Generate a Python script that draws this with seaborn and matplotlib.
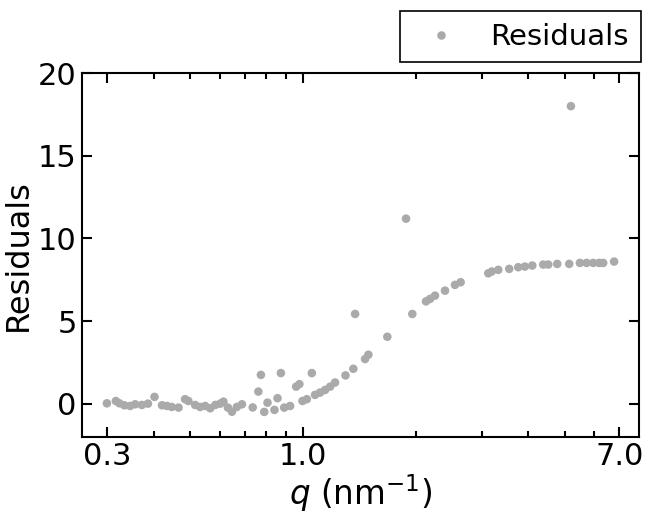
import numpy as np
import pandas as pd
import matplotlib
matplotlib.use("Agg")
import matplotlib.pyplot as plt
import seaborn as sns
from matplotlib.ticker import FixedLocator, FixedFormatter, LogLocator, NullFormatter

# ---- data ----
q = [0.300, 0.317, 0.324, 0.334, 0.346, 0.357, 0.372, 0.386, 0.402, 0.421,
     0.434, 0.447, 0.466, 0.485, 0.495, 0.516, 0.532, 0.549, 0.566, 0.584,
     0.602, 0.614, 0.631, 0.647, 0.667, 0.688, 0.735, 0.761, 0.773, 0.789,
     0.805, 0.840, 0.856, 0.874, 0.892, 0.925, 0.960, 0.979, 0.998, 1.025,
     1.057, 1.078, 1.112, 1.147, 1.183, 1.219, 1.300, 1.364, 1.379, 1.466,
     1.496, 1.681, 1.886, 1.960, 2.132, 2.185, 2.253, 2.396, 2.547, 2.638,
     3.126, 3.192, 3.324, 3.555, 3.758, 3.915, 4.096, 4.382, 4.518, 4.774,
     5.140, 5.194, 5.489, 5.719, 5.956, 6.179, 6.333, 6.773]
residuals = [0.02, 0.16, 0.02, -0.10, -0.14, -0.04, -0.08, 0.00, 0.41, -0.10,
             -0.14, -0.20, -0.24, 0.27, 0.16, -0.08, -0.20, -0.14, -0.28, -0.08,
             0.00, 0.12, -0.24, -0.49, -0.20, -0.04, -0.23, 0.73, 1.74, -0.50,
             0.06, -0.38, 0.33, 1.85, -0.24, -0.14, 1.03, 1.18, 0.16, 0.27,
             1.85, 0.53, 0.67, 0.83, 1.03, 1.28, 1.71, 2.11, 5.43, 2.70,
             2.96, 4.05, 11.20, 5.43, 6.19, 6.34, 6.54, 6.84, 7.19, 7.35,
             7.89, 8.00, 8.10, 8.16, 8.26, 8.30, 8.36, 8.42, 8.42, 8.46,
             8.46, 18.01, 8.52, 8.52, 8.52, 8.52, 8.52, 8.60]
xtick_values = [0.3, 1.0, 7.0]
xtick_labels = ["0.3", "1.0", "7.0"]
ytick_values = [0, 5, 10, 15, 20]

df = pd.DataFrame({"q": q, "Residuals": residuals, "series": "Residuals"})

sns.set_style("white")
plt.rcParams["font.family"] = ["DejaVu Sans"]
plt.rcParams["text.color"] = "black"
plt.rcParams["axes.labelcolor"] = "black"
plt.rcParams["xtick.color"] = "black"
plt.rcParams["ytick.color"] = "black"
plt.rcParams["axes.edgecolor"] = "black"

fig = plt.figure(figsize=(6.5, 5.18), dpi=100)
ax = fig.add_axes([0.1257, 0.157, 0.983 - 0.1257, 0.8585 - 0.157])

sns.scatterplot(data=df, x="q", y="Residuals", hue="series",
                palette=["#aaaaaa"], s=38, linewidth=0, ax=ax, legend=True)

ax.set_xscale("log")
ax.set_xlim(0.257, 7.89)
ax.set_ylim(-2, 20)

ax.xaxis.set_major_locator(FixedLocator(xtick_values))
ax.xaxis.set_major_formatter(FixedFormatter(xtick_labels))
ax.xaxis.set_minor_locator(LogLocator(base=10, subs=np.arange(2, 10)))
ax.xaxis.set_minor_formatter(NullFormatter())
ax.set_yticks(ytick_values)

ax.tick_params(which="both", direction="in", top=True, right=True,
               bottom=True, left=True, labelsize=22, width=1.5,
               color="black", labelcolor="black")
ax.tick_params(which="major", length=7)
ax.tick_params(which="minor", length=4)
for sp in ax.spines.values():
    sp.set_linewidth(1.5)
    sp.set_color("black")

ax.set_xlabel(r"$q$ (nm$^{-1}$)", fontsize=23.5, labelpad=1, color="black")
ax.set_ylabel("Residuals", fontsize=23, labelpad=3, color="black")

handles, labels = ax.get_legend_handles_labels()
leg = ax.legend(handles, labels, loc="lower right", bbox_to_anchor=(1.003, 1.03),
                borderaxespad=0, fontsize=21, frameon=True, fancybox=False,
                framealpha=1, edgecolor="black", labelcolor="black",
                handletextpad=0.7)
leg.get_frame().set_linewidth(1.2)

fig.savefig("out.png", dpi=100)
